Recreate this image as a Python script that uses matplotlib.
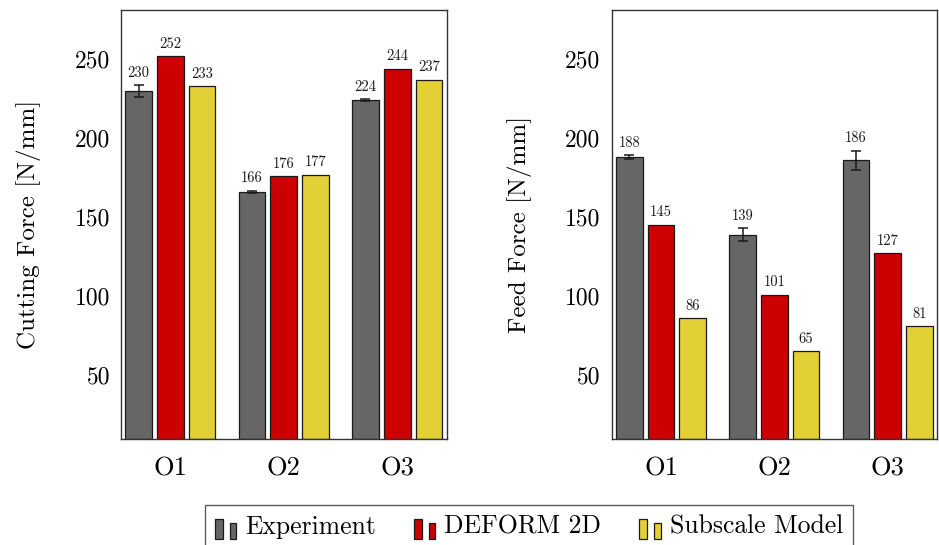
import matplotlib
matplotlib.use("Agg")
import matplotlib.pyplot as plt
import numpy as np
from matplotlib.patches import Rectangle
from matplotlib.legend_handler import HandlerBase

plt.rcParams['font.family'] = ['cmr10', 'DejaVu Serif']
plt.rcParams['mathtext.fontset'] = 'cm'
plt.rcParams['axes.formatter.use_mathtext'] = True

categories = ["O1", "O2", "O3"]
series_names = ["Experiment", "DEFORM 2D", "Subscale Model"]
cutting_exp = [230, 166, 224]
cutting_exp_err = [3.6, 0.6, 0.6]
cutting_deform = [252, 176, 244]
cutting_subscale = [233, 177, 237]
feed_exp = [188, 139, 186]
feed_exp_err = [1.3, 4.0, 6.0]
feed_deform = [145, 101, 127]
feed_subscale = [86, 65, 81]
yticks = [50, 100, 150, 200, 250]

colors = ["#666666", "#CC0000", "#E3D036"]
YMIN, YMAX = 9.5, 281.5

fig = plt.figure(figsize=(9.39, 5.45), dpi=100)
ax1 = fig.add_axes([121/939, (545-439)/545, 325.5/939, 429.5/545])
ax2 = fig.add_axes([611.7/939, (545-439)/545, 325.3/939, 429.5/545])

x = np.arange(1, len(categories)+1)
w = 0.2357
step = 0.28

def draw(ax, exp, err, dfm, sub, ylabel):
    data = [exp, dfm, sub]
    errs = [err, None, None]
    for i, (vals, e) in enumerate(zip(data, errs)):
        pos = x + (i-1)*step
        heights = np.array(vals) - YMIN
        ax.bar(pos, heights, w, bottom=YMIN, color=colors[i], edgecolor="#1a1a1a",
               linewidth=0.9, zorder=2)
        if e is not None:
            ax.errorbar(pos, vals, yerr=e, fmt='none', ecolor='#1a1a1a',
                        elinewidth=1.1, capsize=3.8, capthick=1.1, zorder=3)
        for j, v in enumerate(vals):
            top = v + (e[j] if e is not None else 0)
            ax.annotate(f"{v}", (pos[j], top), xytext=(0, 4), textcoords='offset points',
                        ha='center', va='bottom', fontsize=10.5, color='#1a1a1a')
    ax.set_xlim(0.565, 3.435)
    ax.set_ylim(YMIN, YMAX)
    ax.set_xticks(x)
    ax.set_xticklabels(categories, fontsize=19)
    ax.set_yticks(yticks)
    ax.set_yticklabels([str(t) for t in yticks], fontsize=17)
    ax.tick_params(length=0, pad=8)
    ax.tick_params(axis='x', pad=13)
    ax.set_ylabel(ylabel, fontsize=18)
    ax.yaxis.set_label_coords(-0.245, 0.5)
    for s in ax.spines.values():
        s.set_linewidth(1.0)
        s.set_color("#333333")

draw(ax1, cutting_exp, cutting_exp_err, cutting_deform, cutting_subscale, "Cutting Force [N/mm]")
draw(ax2, feed_exp, feed_exp_err, feed_deform, feed_subscale, "Feed Force [N/mm]")


class TwoBarHandler(HandlerBase):
    def create_artists(self, legend, orig_handle, xdescent, ydescent, width, height, fontsize, trans):
        fc = orig_handle.get_facecolor()
        bw = width * 0.37
        r1 = Rectangle((-xdescent, -ydescent - 3), bw, height, facecolor=fc,
                       edgecolor='#1a1a1a', lw=0.9, transform=trans)
        r2 = Rectangle((-xdescent + width - bw * 0.8, -ydescent - 3), bw * 0.8, height * 0.77,
                       facecolor=fc, edgecolor='#1a1a1a', lw=0.9, transform=trans)
        return [r1, r2]

handles = [Rectangle((0, 0), 1, 1, facecolor=c) for c in colors]
leg = fig.legend(handles, series_names, loc='upper center', bbox_to_anchor=(528.7/939, 1 - 504.7/545),
                 ncol=3, frameon=True, fancybox=False, fontsize=18.5,
                 handler_map={Rectangle: TwoBarHandler()}, handlelength=0.85, handleheight=0.85,
                 handletextpad=0.35, columnspacing=1.45, borderpad=0.38, borderaxespad=0)
leg.get_frame().set_edgecolor('#333333')
leg.get_frame().set_linewidth(1.0)

fig.savefig("out.png", dpi=100)
